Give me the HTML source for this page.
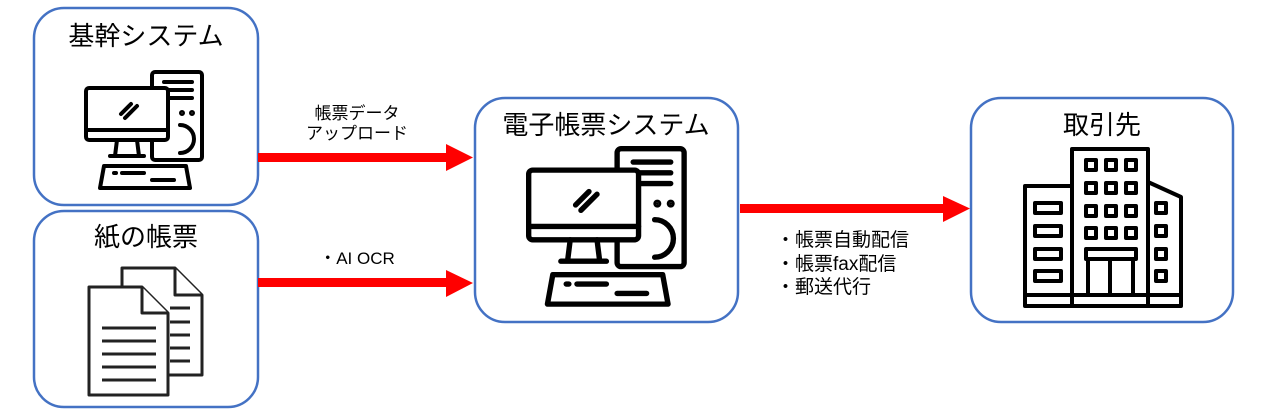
<!DOCTYPE html>
<html><head><meta charset="utf-8"><style>
html,body{margin:0;padding:0;background:#fff;width:1267px;height:418px;overflow:hidden}
text{font-family:"Liberation Sans","Noto Sans CJK JP",sans-serif;fill:#000}
</style></head><body>
<svg width="1267" height="418" viewBox="0 0 1267 418" xmlns="http://www.w3.org/2000/svg">
<defs>
<g id="pc" fill="none" stroke="#000" stroke-width="4" stroke-linejoin="round" stroke-linecap="round">
  <rect x="68" y="2" width="50" height="88" rx="3"/>
  <line x1="80" y1="12" x2="108" y2="12"/><line x1="80" y1="20" x2="108" y2="20"/><line x1="80" y1="28" x2="108" y2="28"/>
  <circle cx="98" cy="43" r="1" fill="#000"/><circle cx="108" cy="43" r="1" fill="#000"/>
  <path d="M96 55 A14 14 0 1 1 96 83"/>
  <rect x="2" y="18" width="82" height="52" rx="3" fill="#fff"/>
  <line x1="2" y1="60" x2="84" y2="60"/>
  <line x1="37" y1="44" x2="47" y2="34"/><line x1="41" y1="48" x2="53" y2="36"/>
  <path d="M33 70 L31 86 M53 70 L55 86 M26 86 L60 86"/>
  <path d="M20 96 L102 96 L106 118 L16 118 Z"/>
  <line x1="30" y1="103" x2="32" y2="103"/><line x1="38" y1="103" x2="60" y2="103"/><line x1="68" y1="110" x2="90" y2="110"/>
</g>
</defs>
<g fill="none" stroke="#4472C4" stroke-width="2.5">
  <rect x="34" y="8" width="224" height="197" rx="30"/>
  <rect x="34" y="211" width="224" height="196" rx="30"/>
  <rect x="475" y="98" width="263" height="224" rx="30"/>
  <rect x="971" y="98" width="262" height="224" rx="30"/>
</g>
<text x="146" y="45" font-size="26" text-anchor="middle">基幹システム</text>
<text x="146" y="246" font-size="26" text-anchor="middle">紙の帳票</text>
<text x="606" y="134" font-size="26" text-anchor="middle">電子帳票システム</text>
<text x="1102" y="134" font-size="26" text-anchor="middle">取引先</text>
<use href="#pc" transform="translate(84,70)"/>
<use href="#pc" transform="translate(526,146) scale(1.34)"/>
<g fill="#fff" stroke="#222" stroke-width="3" stroke-linejoin="round">
  <path d="M122 268 L175 268 L202 295 L202 375 L122 375 Z"/>
  <path d="M175 268 L175 295 L202 295"/>
  <path d="M89 287 L142 287 L168 313 L168 395 L89 395 Z"/>
  <path d="M142 287 L142 313 L168 313"/>
</g>
<g stroke="#222" stroke-width="3">
  <line x1="170" y1="308" x2="190" y2="308"/><line x1="170" y1="322" x2="190" y2="322"/><line x1="170" y1="335" x2="190" y2="335"/><line x1="170" y1="348" x2="190" y2="348"/><line x1="170" y1="361" x2="190" y2="361"/>
  <line x1="102" y1="328" x2="156" y2="328"/><line x1="102" y1="341" x2="156" y2="341"/><line x1="102" y1="354" x2="156" y2="354"/><line x1="102" y1="367" x2="156" y2="367"/><line x1="102" y1="380" x2="156" y2="380"/>
</g>
<g fill="none" stroke="#000" stroke-width="4" stroke-linejoin="round">
  <path d="M1025 305 L1025 186 L1072 186 M1072 305 L1072 149 L1148 149 L1148 305 M1148 182 L1181 197 L1181 305"/>
  <rect x="1025" y="295" width="156" height="11"/>
  <g>
    <rect x="1086" y="160" width="10" height="10"/><rect x="1106" y="160" width="10" height="10"/><rect x="1126" y="160" width="10" height="10"/>
    <rect x="1086" y="183" width="10" height="10"/><rect x="1106" y="183" width="10" height="10"/><rect x="1126" y="183" width="10" height="10"/>
    <rect x="1086" y="206" width="10" height="10"/><rect x="1106" y="206" width="10" height="10"/><rect x="1126" y="206" width="10" height="10"/>
    <rect x="1086" y="228" width="10" height="10"/><rect x="1106" y="228" width="10" height="10"/><rect x="1126" y="228" width="10" height="10"/>
    <rect x="1156" y="203" width="10" height="10"/><rect x="1156" y="226" width="10" height="10"/><rect x="1156" y="249" width="10" height="10"/><rect x="1156" y="271" width="10" height="10"/>
    <rect x="1035" y="203" width="26" height="10"/><rect x="1035" y="226" width="26" height="10"/><rect x="1035" y="249" width="26" height="10"/><rect x="1035" y="271" width="26" height="10"/>
    <rect x="1086" y="249" width="50" height="10"/>
    <path d="M1088 259 L1088 295 M1110 259 L1110 295 M1133 259 L1133 295"/>
  </g>
</g>
<g fill="#FF0000">
  <rect x="258" y="153" width="190" height="9"/><path d="M446 144 L473 157.5 L446 171 Z"/>
  <rect x="258" y="278" width="190" height="9"/><path d="M446 270 L473 283 L446 297 Z"/>
  <rect x="740" y="204" width="205" height="9"/><path d="M943 196 L970 208.5 L943 222 Z"/>
</g>
<text x="357" y="119" font-size="17" text-anchor="middle">帳票データ</text>
<text x="357" y="139" font-size="17" text-anchor="middle">アップロード</text>
<text x="357" y="264" font-size="17" text-anchor="middle">・AI OCR</text>
<text x="776" y="246" font-size="19">・帳票自動配信</text>
<text x="776" y="270" font-size="19">・帳票fax配信</text>
<text x="776" y="293" font-size="19">・郵送代行</text>
</svg>
</body></html>
